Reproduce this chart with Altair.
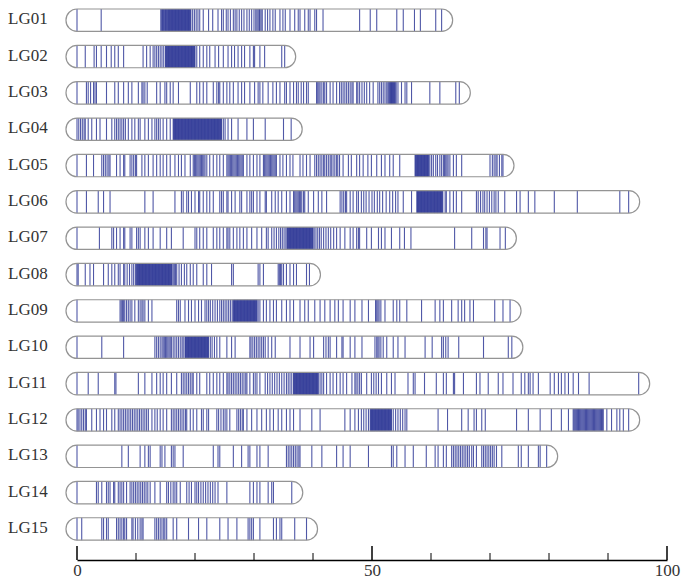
import altair as alt
import pandas as pd

GROUPS = ["LG01", "LG02", "LG03", "LG04", "LG05", "LG06", "LG07", "LG08",
          "LG09", "LG10", "LG11", "LG12", "LG13", "LG14", "LG15"]

LG01 = [0, 4.1, 14.2, 14.5, 14.7, 15.0, 15.2, 15.5, 15.7, 15.9, 16.1, 16.3, 16.4, 16.5, 16.6, 16.7, 16.8,
        16.9, 17.0, 17.1, 17.2, 17.3, 17.4, 17.5, 17.6, 17.7, 17.8, 17.9, 18.0, 18.1, 18.2, 18.3, 18.5,
        18.7, 18.9, 19.1, 19.3, 19.6, 19.9, 20.2, 20.5, 20.8, 21.4, 22.3, 23.0, 23.9, 24.5, 24.8, 25.3,
        25.6, 26.0, 26.5, 26.8, 27.1, 27.5, 27.9, 28.3, 28.8, 29.2, 29.6, 30.0, 30.3, 30.5, 30.7, 30.9,
        31.0, 31.2, 31.4, 31.9, 32.3, 32.7, 33.2, 33.6, 34.4, 34.9, 35.3, 36.1, 36.9, 37.5, 37.8, 38.6,
        39.2, 39.5, 40.3, 40.6, 41.7, 47.9, 49.7, 50.8, 54.2, 55.3, 57.2, 58.2, 60.8, 61.8,
        14.35, 14.6, 14.85, 15.1, 15.35, 15.6, 15.8, 16.0, 16.2, 18.4, 18.6, 18.8, 19.0, 19.2]
LG02 = [0, 1.4, 2.9, 3.3, 4.1, 5.0, 5.8, 6.4, 7.0, 7.9, 11.2, 11.8, 12.4, 12.9, 13.2, 13.5, 13.8, 14.1,
        14.4, 14.7, 15.0, 15.2, 15.4, 15.6, 15.8, 16.0, 16.2, 16.4, 16.6, 16.8, 17.0, 17.2, 17.4, 17.6,
        17.8, 18.0, 18.2, 18.4, 18.6, 18.8, 19.0, 19.2, 19.4, 19.6, 19.8, 20.0, 20.3, 20.8, 21.4, 22.0,
        22.5, 23.4, 24.0, 24.8, 25.6, 26.2, 26.7, 27.3, 27.9, 28.4, 29.3, 29.9, 30.1, 31.0, 31.8, 34.7, 35.2,
        15.1, 15.3, 15.5, 15.7, 15.9, 16.1, 16.3, 16.5, 16.7, 16.9, 17.1, 17.3, 17.5, 17.7, 17.9, 18.1,
        18.3, 18.5, 18.7, 18.9, 19.1, 19.3, 19.5, 19.7, 19.9]
LG03 = [0, 1.6, 1.9, 2.3, 2.8, 3.05, 3.3, 5.0, 6.4, 7.0, 7.9, 8.7, 9.3, 10.4, 11.0, 11.2, 11.5, 11.9,
        13.5, 14.1, 14.9, 15.2, 15.8, 16.3, 17.2, 19.2, 20.3, 20.8, 21.4, 22.0, 23.1, 23.7, 24.0, 24.2,
        24.8, 25.4, 25.9, 26.5, 27.3, 27.9, 28.4, 29.3, 30.1, 30.7, 31.0, 31.5, 32.4, 33.2, 33.8, 34.4,
        35.2, 35.5, 36.1, 36.7, 37.2, 37.5, 38.0, 38.4, 38.9, 39.2, 40.6, 40.8, 41.0, 41.2, 41.5, 41.8,
        42.0, 42.3, 42.9, 43.4, 44.0, 44.5, 44.8, 45.1, 45.4, 45.7, 46.0, 46.3, 46.6, 46.8, 47.4, 47.6,
        47.9, 48.3, 48.7, 49.1, 49.6, 50.2, 51.0, 51.3, 51.6, 51.9, 52.2, 52.5, 52.7, 53.0, 53.2, 53.4,
        53.6, 53.8, 54.1, 54.4, 55.0, 55.6, 55.9, 56.7, 59.8, 61.5, 64.2, 64.8,
        52.85, 53.1, 53.3, 53.5, 53.7, 53.95]
LG04 = [0, 0.3, 0.6, 0.9, 1.2, 1.4, 1.9, 2.5, 3.3, 3.9, 5.0, 5.9, 6.4, 6.7, 7.0, 7.3, 7.6, 7.9, 8.2,
        8.7, 9.3, 9.8, 10.4, 10.7, 11.5, 12.1, 12.7, 13.2, 13.5, 13.8, 14.1, 14.6, 15.2, 15.8, 16.3,
        16.5, 16.7, 16.9, 17.1, 17.3, 17.5, 17.7, 17.9, 18.1, 18.3, 18.5, 18.7, 18.9, 19.1, 19.3, 19.5,
        19.7, 19.9, 20.1, 20.3, 20.5, 20.7, 20.9, 21.1, 21.3, 21.5, 21.7, 21.9, 22.1, 22.3, 22.5, 22.7,
        22.9, 23.1, 23.3, 23.5, 23.7, 23.9, 24.1, 24.3, 24.5, 24.8, 25.1, 25.6, 26.2, 27.3, 28.8, 29.9,
        31.9, 35.0, 36.3,
        16.4, 16.6, 16.8, 17.0, 17.2, 17.4, 17.6, 17.8, 18.0, 18.2, 18.4, 18.6, 18.8, 19.0, 19.2, 19.4,
        19.6, 19.8, 20.0, 20.2, 20.4, 20.6, 20.8, 21.0, 21.2, 21.4, 21.6, 21.8, 22.0, 22.2, 22.4, 22.6,
        22.8, 23.0, 23.2, 23.4, 23.6, 23.8, 24.0, 24.2, 24.4]
LG05 = [0, 1.6, 2.8, 4.2, 4.5, 4.8, 5.1, 5.4, 5.6, 6.7, 7.3, 7.9, 8.1, 9.0, 9.3, 9.6, 9.9, 10.1, 11.0,
        11.5, 12.1, 12.9, 13.5, 14.1, 14.6, 15.2, 15.8, 16.6, 17.2, 17.7, 18.3, 19.2, 19.7, 19.9, 20.1,
        20.3, 20.5, 20.7, 20.9, 21.1, 21.3, 21.5, 21.7, 22.0, 22.5, 23.1, 23.7, 24.2, 24.8, 25.4, 25.6,
        25.8, 26.0, 26.2, 26.4, 26.6, 26.8, 27.0, 27.2, 27.4, 27.6, 27.8, 28.0, 28.2, 28.8, 29.3, 29.9,
        30.5, 31.0, 31.6, 31.8, 32.0, 32.2, 32.4, 32.6, 32.8, 33.0, 33.2, 33.4, 33.6, 33.8, 34.4, 34.9,
        35.5, 36.1, 36.6, 37.8, 38.3, 38.9, 39.5, 40.3, 40.6, 40.9, 41.2, 41.5, 41.8, 42.0, 42.3, 42.6,
        42.9, 43.1, 43.4, 43.7, 44.0, 44.2, 44.5, 45.1, 46.0, 46.5, 47.4, 47.9, 48.5, 49.3, 49.9, 50.8,
        51.6, 52.2, 53.0, 53.6, 54.7, 57.3, 57.5, 57.7, 57.9, 58.1, 58.3, 58.5, 58.7, 58.9, 59.1, 59.3,
        59.5, 59.8, 60.1, 60.4, 60.8, 61.1, 61.5, 61.8, 62.1, 62.3, 62.5, 62.7, 62.9, 63.2, 63.8, 64.3,
        65.2, 70.0, 70.4, 70.7, 71.0, 71.2, 71.6, 72.0, 72.2,
        57.4, 57.6, 57.8, 58.0, 58.2, 58.4, 58.6, 58.8, 59.0, 59.2, 59.4, 59.6]
LG06 = [0, 1.6, 3.6, 4.5, 5.6, 11.5, 12.9, 16.6, 17.7, 18.0, 18.6, 18.9, 19.4, 20.0, 20.6, 20.8, 21.4,
        22.0, 22.5, 23.1, 24.2, 24.5, 24.8, 25.4, 25.6, 26.2, 26.8, 27.6, 27.9, 28.8, 29.3, 29.6, 29.9,
        30.5, 31.0, 31.9, 32.1, 33.0, 33.6, 34.1, 34.7, 35.5, 36.1, 36.7, 36.9, 37.1, 37.3, 37.5, 37.7,
        37.9, 38.1, 38.4, 38.6, 39.2, 40.1, 40.9, 41.5, 42.3, 44.6, 44.9, 45.2, 45.5, 45.7, 46.3, 46.8,
        47.4, 47.7, 48.2, 48.6, 49.0, 49.5, 50.0, 50.4, 50.9, 51.3, 51.8, 52.4, 53.0, 53.5, 54.0, 54.4,
        55.3, 56.7, 57.6, 57.8, 58.0, 58.2, 58.4, 58.6, 58.8, 59.0, 59.2, 59.4, 59.6, 59.8, 60.0, 60.2,
        60.4, 60.6, 60.8, 61.0, 61.2, 61.4, 61.6, 61.8, 62.0, 62.4, 62.6, 63.2, 63.8, 64.3, 65.2, 67.7,
        68.0, 68.4, 68.8, 69.1, 69.5, 69.9, 70.3, 70.7, 71.0, 71.4, 72.5, 74.5, 75.1, 76.5, 77.6, 80.9,
        84.8, 92.0, 93.5,
        57.7, 57.9, 58.1, 58.3, 58.5, 58.7, 58.9, 59.1, 59.3, 59.5, 59.7, 59.9, 60.1, 60.3, 60.5, 60.7,
        60.9, 61.1, 61.3, 61.5, 61.7, 61.9]
LG07 = [0, 3.8, 5.9, 6.2, 6.7, 7.3, 7.9, 8.1, 9.0, 9.3, 10.1, 10.4, 10.7, 11.5, 12.1, 12.9, 14.1, 15.2,
        16.0, 18.0, 20.0, 20.3, 20.8, 21.4, 22.0, 23.1, 23.7, 24.2, 24.8, 25.4, 25.6, 25.9, 26.5, 27.1,
        27.6, 28.2, 28.8, 29.6, 30.5, 31.3, 32.1, 32.4, 33.0, 33.4, 33.8, 34.2, 34.5, 34.8, 35.1, 35.4,
        35.6, 35.8, 36.0, 36.2, 36.4, 36.6, 36.8, 37.0, 37.2, 37.4, 37.6, 37.8, 38.0, 38.2, 38.4, 38.6,
        38.8, 39.0, 39.2, 39.4, 39.6, 39.8, 40.0, 40.2, 40.5, 40.8, 41.1, 41.4, 41.8, 42.2, 42.6, 43.0,
        43.5, 44.0, 44.6, 45.4, 46.3, 46.8, 47.4, 47.7, 47.9, 49.1, 49.9, 51.1, 51.6, 52.2, 53.3, 54.7,
        55.5, 56.6, 64.0, 66.9, 68.9, 69.3, 69.5, 71.7, 72.6,
        35.7, 35.9, 36.1, 36.3, 36.5, 36.7, 36.9, 37.1, 37.3, 37.5, 37.7, 37.9, 38.1, 38.3, 38.5, 38.7,
        38.9, 39.1, 39.3, 39.5, 39.7, 39.9]
LG08 = [0, 0.2, 1.4, 2.2, 2.8, 4.5, 5.3, 5.9, 6.4, 7.0, 7.3, 7.9, 8.1, 8.5, 8.9, 9.3, 9.6, 9.9, 10.1,
        10.3, 10.5, 10.7, 10.9, 11.1, 11.3, 11.5, 11.7, 11.9, 12.1, 12.3, 12.5, 12.7, 12.9, 13.1, 13.3,
        13.5, 13.7, 13.9, 14.1, 14.3, 14.5, 14.7, 14.9, 15.1, 15.3, 15.5, 15.7, 15.9, 16.1, 16.3, 16.5,
        16.7, 16.9, 17.3, 17.7, 18.2, 18.6, 19.2, 19.7, 20.3, 21.4, 22.0, 22.8, 26.2, 26.5, 30.7, 31.0,
        31.6, 34.1, 34.3, 34.5, 34.7, 35.0, 35.5, 36.1, 36.7, 37.2, 38.9, 39.4,
        10.2, 10.4, 10.6, 10.8, 11.0, 11.2, 11.4, 11.6, 11.8, 12.0, 12.2, 12.4, 12.6, 12.8, 13.0, 13.2,
        13.4, 13.6, 13.8, 14.0, 14.2, 14.4, 14.6, 14.8, 15.0, 15.2, 15.4, 15.6, 15.8, 16.0]
LG09 = [0, 7.3, 7.5, 7.7, 7.9, 8.1, 8.4, 8.7, 9.0, 9.3, 9.8, 10.4, 10.7, 11.0, 11.2, 11.5, 12.1, 12.7,
        16.9, 17.2, 17.5, 18.3, 18.9, 19.4, 20.0, 20.6, 21.1, 21.7, 22.0, 22.3, 22.6, 23.0, 23.4, 23.8,
        24.2, 24.5, 24.8, 25.1, 25.4, 25.7, 26.0, 26.3, 26.5, 26.7, 26.9, 27.1, 27.3, 27.5, 27.7, 27.9,
        28.1, 28.3, 28.5, 28.7, 28.9, 29.1, 29.3, 29.5, 29.7, 29.9, 30.1, 30.3, 30.5, 30.7, 31.0, 31.6,
        32.1, 32.7, 33.3, 33.8, 34.7, 35.5, 36.1, 36.7, 37.8, 38.6, 39.2, 40.3, 41.2, 42.0, 42.9, 43.7,
        44.3, 45.1, 46.3, 47.1, 48.3, 49.4, 50.6, 50.8, 51.0, 51.2, 51.5, 52.2, 53.6, 54.2, 54.7, 55.9,
        58.4, 60.7, 61.5, 62.1, 63.5, 64.6, 65.2, 65.7, 66.6, 67.2, 70.8, 72.2, 73.4,
        26.6, 26.8, 27.0, 27.2, 27.4, 27.6, 27.8, 28.0, 28.2, 28.4, 28.6, 28.8, 29.0, 29.2, 29.4, 29.6,
        29.8, 30.0, 30.2, 30.4]
LG10 = [0, 4.2, 7.9, 13.2, 13.5, 13.8, 14.1, 14.4, 14.6, 14.8, 15.0, 15.2, 15.4, 15.6, 15.8, 16.0, 16.3,
        16.6, 16.9, 17.2, 17.5, 17.8, 18.0, 18.3, 18.5, 18.7, 18.9, 19.1, 19.3, 19.5, 19.7, 19.9, 20.1,
        20.3, 20.5, 20.7, 20.9, 21.1, 21.3, 21.5, 21.7, 21.9, 22.1, 22.3, 22.6, 22.9, 23.3, 23.7, 24.2,
        25.4, 26.2, 26.8, 29.3, 29.5, 29.8, 30.1, 30.4, 30.7, 31.0, 31.3, 31.6, 31.9, 32.4, 33.0, 33.6,
        36.1, 37.8, 39.5, 40.1, 41.8, 42.2, 42.6, 42.9, 44.0, 44.9, 45.1, 46.3, 47.1, 48.3, 50.5, 50.8,
        51.0, 51.2, 51.5, 51.9, 52.5, 53.6, 54.4, 55.6, 59.0, 60.2, 61.8, 62.1, 62.5, 62.9, 64.7, 68.9,
        73.1, 73.7,
        18.4, 18.6, 18.8, 19.0, 19.2, 19.4, 19.6, 19.8, 20.0, 20.2, 20.4, 20.6, 20.8, 21.0, 21.2, 21.4,
        21.6, 21.8, 22.0, 22.2]
LG11 = [0, 1.9, 3.6, 6.4, 6.6, 10.4, 11.5, 12.7, 13.5, 14.1, 14.6, 15.2, 16.0, 16.9, 17.7, 18.0, 18.3,
        18.6, 18.9, 19.2, 19.5, 19.7, 20.3, 20.8, 22.0, 22.5, 23.1, 23.7, 24.2, 24.8, 25.4, 25.6, 25.9,
        26.2, 26.5, 26.8, 27.1, 27.4, 27.7, 28.0, 28.3, 28.6, 28.8, 29.3, 29.9, 30.2, 30.5, 31.0, 31.9,
        32.3, 32.7, 33.1, 33.5, 33.9, 34.3, 34.7, 35.1, 35.5, 35.8, 36.1, 36.4, 36.7, 36.9, 37.1, 37.3,
        37.5, 37.7, 37.9, 38.1, 38.3, 38.5, 38.7, 38.9, 39.1, 39.3, 39.5, 39.7, 39.9, 40.1, 40.3, 40.5,
        40.7, 40.9, 41.2, 41.5, 41.8, 42.3, 42.9, 43.4, 44.0, 44.6, 45.1, 45.7, 46.6, 47.1, 47.3, 47.6,
        47.9, 48.2, 49.1, 49.9, 50.3, 50.7, 51.1, 51.6, 52.5, 53.3, 53.9, 56.1, 57.0, 57.3, 58.9, 60.9,
        62.1, 62.6, 63.8, 64.0, 65.5, 67.7, 68.3, 69.7, 71.4, 72.2, 73.9, 75.3, 75.9, 76.5, 76.8, 77.3,
        78.2, 80.2, 80.9, 81.6, 82.1, 82.7, 83.3, 84.1, 85.0, 86.8, 95.2,
        36.8, 37.0, 37.2, 37.4, 37.6, 37.8, 38.0, 38.2, 38.4, 38.6, 38.8, 39.0, 39.2, 39.4, 39.6, 39.8,
        40.0, 40.2, 40.4, 40.6, 40.8]
LG12 = [0, 0.2, 0.5, 0.8, 1.1, 1.4, 1.6, 2.5, 3.3, 3.9, 4.5, 5.0, 5.9, 6.4, 7.0, 7.3, 7.6, 7.9, 8.2,
        8.5, 8.8, 9.1, 9.4, 9.7, 10.0, 10.3, 10.6, 10.9, 11.2, 11.5, 11.8, 12.1, 12.7, 13.2, 13.6, 14.1,
        14.6, 15.2, 16.0, 16.3, 16.6, 16.9, 17.2, 17.5, 17.8, 18.1, 18.4, 18.6, 19.2, 19.7, 20.3, 21.1,
        21.4, 22.0, 22.3, 23.7, 24.0, 24.4, 24.8, 25.1, 25.4, 25.9, 27.1, 27.4, 27.7, 28.0, 28.2, 28.8,
        29.6, 30.5, 31.3, 32.1, 32.7, 33.3, 34.1, 34.7, 35.5, 36.1, 36.7, 37.8, 39.8, 41.2, 45.4, 46.3,
        47.1, 47.7, 48.2, 48.6, 49.0, 49.4, 49.7, 49.9, 50.1, 50.3, 50.5, 50.7, 50.9, 51.1, 51.3, 51.5,
        51.7, 51.9, 52.1, 52.3, 52.5, 52.7, 52.9, 53.1, 53.3, 53.6, 54.0, 54.4, 54.8, 55.2, 55.6, 55.9,
        61.2, 62.8, 65.2, 66.3, 67.3, 67.7, 68.6, 69.2, 74.5, 76.5, 78.5, 80.4, 82.1, 83.3, 84.1, 84.4,
        84.7, 85.0, 85.3, 85.6, 85.9, 86.2, 86.5, 86.8, 87.1, 87.4, 87.7, 88.0, 88.3, 88.6, 88.9, 89.2,
        89.8, 90.6, 91.5, 92.0, 92.6, 93.5,
        49.8, 50.0, 50.2, 50.4, 50.6, 50.8, 51.0, 51.2, 51.4, 51.6, 51.8, 52.0, 52.2, 52.4, 52.6, 52.8,
        53.0, 53.2, 84.25, 84.55, 84.85, 85.15, 85.45, 85.75, 86.05, 86.35, 86.65, 86.95, 87.25, 87.55,
        87.85, 88.15, 88.45, 88.75, 89.05]
LG13 = [0, 7.6, 8.7, 10.7, 11.5, 12.1, 12.4, 14.1, 14.4, 14.9, 16.0, 16.3, 16.6, 18.0, 23.1, 23.9, 24.2,
        26.5, 27.9, 29.0, 29.3, 30.5, 31.0, 32.4, 35.5, 35.8, 36.1, 36.4, 36.7, 37.0, 37.3, 37.6, 37.8,
        39.8, 41.5, 44.0, 45.1, 46.3, 49.4, 53.3, 53.6, 54.2, 55.6, 57.0, 59.2, 60.7, 61.2, 62.1, 62.6,
        63.5, 63.8, 64.1, 64.4, 64.7, 65.0, 65.3, 65.6, 65.9, 66.2, 66.5, 66.9, 67.2, 67.7, 68.6, 68.9,
        69.2, 69.5, 69.8, 70.1, 70.4, 70.7, 71.1, 72.0, 74.8, 75.3, 76.5, 78.2, 78.5, 79.6]
LG14 = [0, 3.3, 3.6, 4.2, 5.0, 5.3, 5.6, 6.2, 6.4, 7.0, 7.3, 7.6, 7.9, 8.4, 9.0, 9.3, 9.6, 9.9, 10.2,
        10.5, 10.8, 11.1, 11.4, 11.7, 12.0, 12.4, 13.2, 14.1, 15.2, 15.5, 15.9, 16.3, 16.6, 16.9, 17.5,
        18.6, 19.0, 19.4, 20.0, 20.3, 20.6, 21.0, 21.4, 21.8, 22.2, 22.6, 23.0, 23.4, 23.9, 25.4, 29.3,
        29.9, 30.5, 31.0, 32.4, 33.0, 33.3, 36.4]
LG15 = [0, 0.8, 4.2, 4.5, 5.0, 5.3, 6.7, 7.0, 7.3, 7.6, 7.9, 8.1, 8.4, 9.3, 9.5, 9.9, 10.3, 10.7, 11.0,
        11.2, 13.2, 13.5, 13.8, 14.1, 14.4, 14.7, 14.9, 15.2, 16.3, 16.9, 18.9, 20.6, 22.0, 24.2, 25.6,
        27.1, 29.0, 29.3, 29.6, 29.9, 31.0, 33.3, 33.8, 34.4, 34.7, 36.9, 38.9]

MAJOR_TICKS = [0, 50, 100]
MINOR_TICKS = [10, 20, 30, 40, 60, 70, 80, 90]

ALL = [LG01, LG02, LG03, LG04, LG05, LG06, LG07, LG08, LG09, LG10, LG11, LG12, LG13, LG14, LG15]

HALF = 0.308  # half capsule height in row units

marker_rows = []
cap_rows = []
for i, (name, pos) in enumerate(zip(GROUPS, ALL), start=1):
    cap_rows.append({"group": name, "row": i, "start": 0, "end": max(pos),
                     "y0": i - HALF, "y1": i + HALF})
    for p in pos:
        marker_rows.append({"group": name, "row": i, "pos": p,
                            "y0": i - HALF, "y1": i + HALF})

markers = pd.DataFrame(marker_rows)
caps = pd.DataFrame(cap_rows)
major = pd.DataFrame({"t": MAJOR_TICKS})
minor = pd.DataFrame({"t": MINOR_TICKS})

H = 552
XS = alt.Scale(domain=[0, 100], nice=False, zero=False)
YS = alt.Scale(domain=[0.6643, 15.854], nice=False, zero=False, reverse=True)
XAX = alt.Axis(values=MAJOR_TICKS, ticks=False, grid=False, domainColor="black",
               domainWidth=1.5, labelFont="Liberation Serif", labelFontSize=17,
               labelColor="#333333", labelPadding=2, labelFlush=False, title=None)

cap_fill = alt.Chart(caps).mark_rect(
    cornerRadius=11, xOffset=-11, x2Offset=11, fill="white", strokeOpacity=0
).encode(
    x=alt.X("start:Q", scale=XS, axis=XAX),
    x2="end:Q",
    y=alt.Y("y0:Q", scale=YS, axis=None),
    y2="y1:Q",
)

rules = alt.Chart(markers).mark_rule(color="#2a3394", opacity=0.82, strokeWidth=1.1).encode(
    x=alt.X("pos:Q", scale=XS, axis=XAX),
    y=alt.Y("y0:Q", scale=YS, axis=None),
    y2="y1:Q",
)

cap_line = alt.Chart(caps).mark_rect(
    cornerRadius=11, xOffset=-11, x2Offset=11, fillOpacity=0, stroke="#949494", strokeWidth=1.2
).encode(
    x=alt.X("start:Q", scale=XS, axis=XAX),
    x2="end:Q",
    y=alt.Y("y0:Q", scale=YS, axis=None),
    y2="y1:Q",
)

labels = alt.Chart(caps).mark_text(
    align="left", baseline="middle", font="Liberation Serif", fontSize=17, color="#333333", dy=-1
).encode(
    x=alt.value(-69),
    y=alt.Y("row:Q", scale=YS, axis=None),
    text="group:N",
)

major_ticks = alt.Chart(major).mark_rule(color="black", strokeWidth=1.5).encode(
    x=alt.X("t:Q", scale=XS, axis=XAX),
    y=alt.value(H - 14),
    y2=alt.value(H),
)

minor_ticks = alt.Chart(minor).mark_rule(color="black", strokeWidth=1).encode(
    x=alt.X("t:Q", scale=XS, axis=XAX),
    y=alt.value(H - 7),
    y2=alt.value(H),
)

chart = alt.layer(cap_fill, rules, cap_line, labels, major_ticks, minor_ticks).properties(
    width=590,
    height=H,
    autosize=alt.AutoSizeParams(type="none"),
    padding={"left": 69, "top": 0, "right": 20, "bottom": 19},
).configure_view(stroke=None)

chart.save("out.html", embed_options={"renderer": "svg", "actions": False})
